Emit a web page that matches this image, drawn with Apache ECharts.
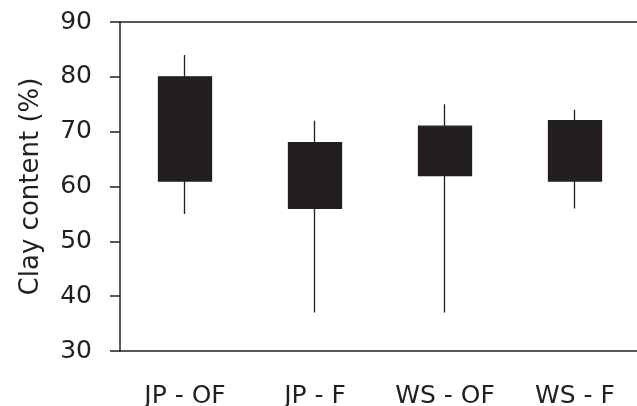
<!DOCTYPE html>
<html><head><meta charset="utf-8">
<script src="https://cdn.jsdelivr.net/npm/echarts@6/dist/echarts.min.js"></script>
<style>html,body{margin:0;padding:0;background:#fff}#c{width:637px;height:406px}</style>
</head><body><div id="c"></div>
<script>
var categories = ['JP - OF', 'JP - F', 'WS - OF', 'WS - F'];
var boxLow = [61, 56, 62, 61];
var boxHigh = [80, 68, 71, 72];
var whiskerLow = [55, 37, 37, 56];
var whiskerHigh = [84, 72, 75, 74];
var yTicks = [30, 40, 50, 60, 70, 80, 90];

var ink = '#231f20';
var font = 'DejaVu Sans';
var data = categories.map(function (c, i) {
  return [boxLow[i], boxHigh[i], whiskerLow[i], whiskerHigh[i]];
});
var chart = echarts.init(document.getElementById('c'), null, {renderer: 'canvas'});
chart.setOption({
  animation: false,
  backgroundColor: '#fff',
  grid: {left: 120, top: 22, width: 520, height: 329, containLabel: false, outerBoundsMode: 'none'},
  xAxis: [{
    type: 'category', data: categories, position: 'bottom', boundaryGap: true,
    axisLine: {show: true, lineStyle: {color: ink, width: 1.5}},
    axisTick: {show: false},
    axisLabel: {color: ink, fontFamily: font, fontSize: 25, margin: 33, interval: 0},
    splitLine: {show: false}
  }, {
    type: 'category', data: categories, position: 'top',
    axisLine: {show: true, lineStyle: {color: ink, width: 1.5}},
    axisTick: {show: false}, axisLabel: {show: false}, splitLine: {show: false}
  }],
  yAxis: {
    type: 'value', min: yTicks[0], max: yTicks[yTicks.length - 1], interval: 10,
    name: 'Clay content (%)', nameLocation: 'middle', nameGap: 76,
    nameTextStyle: {color: ink, fontFamily: font, fontSize: 26},
    axisLine: {show: true, lineStyle: {color: ink, width: 1.5}},
    axisTick: {show: true, length: 10, lineStyle: {color: ink, width: 1.5}},
    axisLabel: {color: ink, fontFamily: font, fontSize: 25, margin: 28},
    splitLine: {show: false}
  },
  series: [{
    type: 'candlestick', data: data, barWidth: 54, xAxisIndex: 0,
    itemStyle: {color: ink, color0: ink, borderColor: ink, borderColor0: ink, borderWidth: 1.3}
  }]
});
</script></body></html>
